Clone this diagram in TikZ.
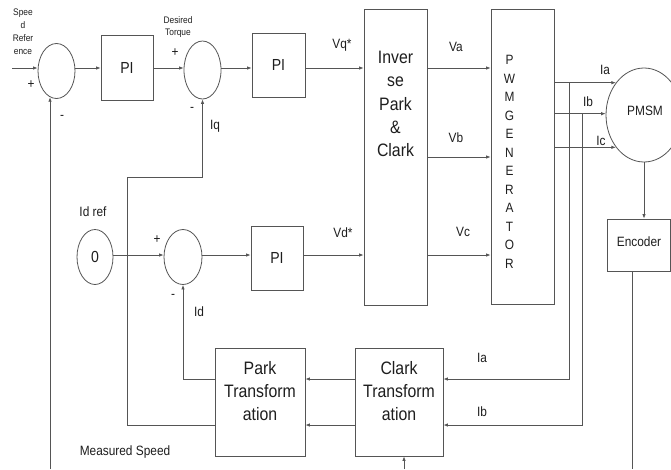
\documentclass[tikz,border=0pt]{standalone}
\usepackage{fontspec}
\setmainfont{Liberation Sans}[FakeStretch=0.88]
\usetikzlibrary{shapes.geometric,arrows.meta}
\definecolor{lc}{RGB}{85,85,85}
\definecolor{tc}{RGB}{30,30,30}
\newcommand\dgsmall{\fontsize{9.5}{13}\selectfont}
\newcommand\dgdes{\fontsize{9.5}{11.5}\selectfont}
\newcommand\dgmid{\fontsize{13.5}{16}\selectfont}
\newcommand\dgbig{\fontsize{18}{23.3}\selectfont}
\newcommand\dgpi{\fontsize{16}{19}\selectfont}
\newcommand\dgpwm{\fontsize{13.5}{18.5}\selectfont}
\begin{document}
\begin{tikzpicture}[x=1pt,y=-1pt,
  ln/.style={draw=lc, line width=0.8pt},
  arr/.style={ln, -{Latex[length=4.5pt,width=3.5pt]}},
  blk/.style={draw=lc, line width=0.8pt, rectangle, inner sep=0pt, text=tc},
  sumnode/.style={draw=lc, line width=0.8pt, ellipse, inner sep=0pt, text=tc},
  lbl/.style={text=tc, inner sep=0pt, font=\dgmid, align=center}]
\useasboundingbox (0,0) rectangle (671,469);
\clip (0,0) rectangle (671,469);
\fill[white] (0,0) rectangle (671,469);

% blocks
\node[sumnode, minimum width=37pt, minimum height=55pt] (sum1) at (56.5,71) {};
\node[blk, minimum width=52pt, minimum height=65pt, font=\dgpi] (pi1) at (127,67.5) {PI};
\node[sumnode, minimum width=37pt, minimum height=58pt] (sum2) at (202.5,70) {};
\node[blk, minimum width=53pt, minimum height=64pt, font=\dgpi] (pi2) at (278.5,65) {PI};
\node[blk, minimum width=63pt, minimum height=296pt] (inv) at (395.5,157) {};
\node[blk, minimum width=63pt, minimum height=295pt] (pwm) at (522.5,156.5) {};
\node[sumnode, minimum width=76pt, minimum height=94pt] (pmsm) at (644,115) {};
\node[blk, minimum width=63pt, minimum height=52pt] (enc) at (638.5,245) {};
\node[sumnode, minimum width=36pt, minimum height=55pt, font=\dgpi] (zero) at (95,257) {0};
\node[sumnode, minimum width=38pt, minimum height=55pt] (sum3) at (183,257) {};
\node[blk, minimum width=52pt, minimum height=64pt, font=\dgpi] (pi3) at (277,258) {PI};
\node[blk, minimum width=90pt, minimum height=108pt] (park) at (260,402) {};
\node[blk, minimum width=88pt, minimum height=108pt] (clark) at (399,402) {};

% block texts
\node[lbl, font=\dgbig] (invtxt) at (395.5,104) {Inver\\se\\Park\\\&\\Clark};
\node[lbl, font=\dgpwm] (pwmtxt) at (509.5,162) {P\\W\\M\\G\\E\\N\\E\\R\\A\\T\\O\\R};
\node[lbl] (pmsmtxt) at (645,111) {PMSM};
\node[lbl] (enctxt) at (639,242) {Encoder};
\node[lbl, font=\dgbig] (parktxt) at (260,391) {Park\\Transform\\ation};
\node[lbl, font=\dgbig] (clarktxt) at (399,391) {Clark\\Transform\\ation};

% coordinates
\coordinate (inp) at (12,68);
\coordinate (rvb) at (0,157);
\coordinate (r3) at (0,255);
\coordinate (ta) at (569,379);
\coordinate (tb) at (582,425);
\coordinate (idc) at (183,379);
\coordinate (iqa) at (127,425);
\coordinate (iqb) at (127,177);
\coordinate (sp) at (50,469);
\coordinate (eb) at (632,469);
\coordinate (cb) at (404,469);

% top row
\draw[arr] (inp) -- (sum1.west |- inp);
\draw[arr] (sum1.east |- inp) -- (pi1.west |- inp);
\draw[arr] (pi1.east |- inp) -- (sum2.west |- inp);
\draw[arr] (sum2.east |- inp) -- (pi2.west |- inp);
\draw[arr] (pi2.east |- inp) -- (inv.west |- inp);
\draw[arr] (inv.east |- inp) -- (pwm.west |- inp);
\draw[arr] (inv.east |- rvb) -- (pwm.west |- rvb);
% d row
\draw[arr] (zero.east |- r3) -- (sum3.west |- r3);
\draw[arr] (sum3.east |- r3) -- (pi3.west |- r3);
\draw[arr] (pi3.east |- r3) -- (inv.west |- r3);
\draw[arr] (inv.east |- r3) -- (pwm.west |- r3);
% PWM to motor
\draw[arr] (pwm.east |- pmsm.131) -- (pmsm.131);
\draw[arr] (pwm.east |- pmsm.178) -- (pmsm.178);
\draw[arr] (pwm.east |- pmsm.229) -- (pmsm.229);
% current taps
\draw[arr] (ta |- pmsm.131) -- (ta) -- (clark.east |- ta);
\draw[arr] (tb |- pmsm.178) -- (tb) -- (clark.east |- tb);
\draw[arr] (clark.west |- ta) -- (park.east |- ta);
\draw[arr] (clark.west |- tb) -- (park.east |- tb);
% feedbacks
\draw[arr] (park.west |- ta) -- (idc) -- (sum3.south);
\draw[arr] (park.west |- tb) -- (iqa) -- (iqb) -- (iqb -| sum2.south) -- (sum2.south);
\draw[arr] (sp) -- (sp |- sum1.256);
% encoder
\draw[arr] (pmsm.south) -- (enc.north -| pmsm.south);
\draw[ln] (enc.south -| eb) -- (eb);
\draw[arr] (cb) -- (clark.south -| cb);

% labels
\node[lbl, font=\dgsmall] (spref) at (23,32) {Spee\\d\\Refer\\ence};
\node[lbl, font=\dgdes] (destq) at (178,27) {Desired\\Torque};
\node[lbl] (p1) at (31,85) {+};
\node[lbl] (m1) at (62,117) {-};
\node[lbl] (p2) at (175,53) {+};
\node[lbl] (m2) at (192,109) {-};
\node[lbl] (iq) at (215,126) {Iq};
\node[lbl] (vq) at (342,45) {Vq*};
\node[lbl] (va) at (456,47) {Va};
\node[lbl] (vb) at (456,138) {Vb};
\node[lbl] (vd) at (343,233) {Vd*};
\node[lbl] (vc) at (463,232) {Vc};
\node[lbl] (ia) at (605,70) {Ia};
\node[lbl] (ib) at (588,102) {Ib};
\node[lbl] (ic) at (601,141) {Ic};
\node[lbl] (idref) at (93,212) {Id ref};
\node[lbl] (p3) at (157,240) {+};
\node[lbl] (m3) at (173,296) {-};
\node[lbl] (id) at (199,312) {Id};
\node[lbl] (ia2) at (482,358) {Ia};
\node[lbl] (ib2) at (482,412) {Ib};
\node[lbl] (meas) at (125,452) {Measured Speed};
\end{tikzpicture}
\end{document}
